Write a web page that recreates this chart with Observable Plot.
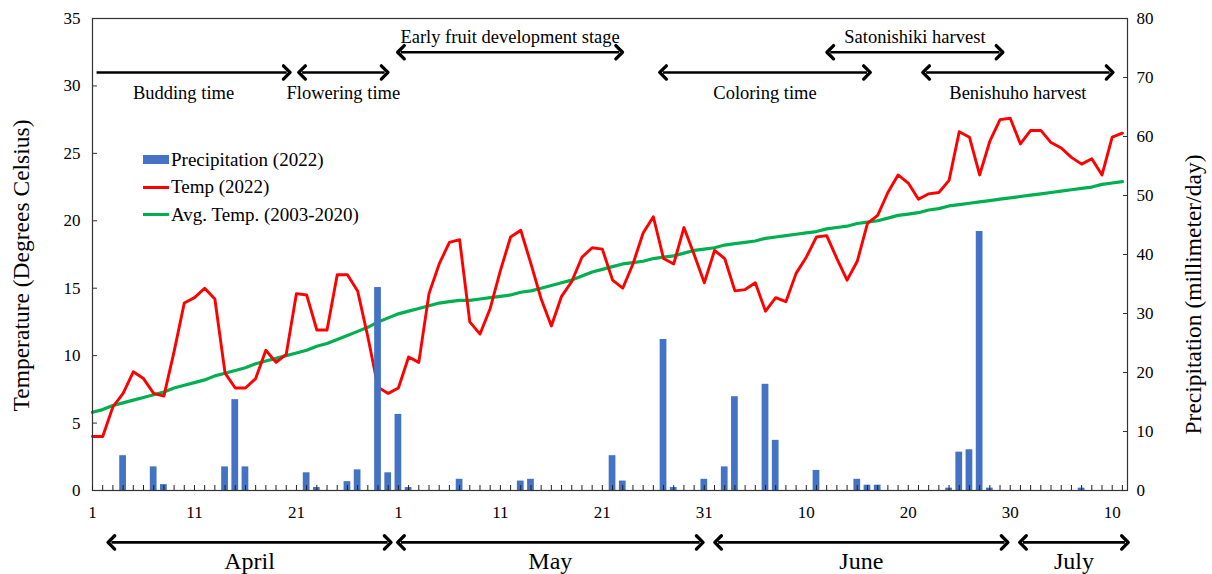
<!DOCTYPE html>
<html>
<head>
<meta charset="utf-8">
<script src="https://cdn.jsdelivr.net/npm/d3@7"></script>
<script src="https://cdn.jsdelivr.net/npm/@observablehq/plot@0.6"></script>
<style>
  body { margin: 0; background: #fff; }
  #wrap { position: relative; width: 1212px; height: 574px; font-family: "Liberation Serif", "Times New Roman", serif; }
  .legend { position: absolute; left: 143px; top: 146px; font-size: 19px; color: #000; }
  .row { display: flex; align-items: center; height: 27.5px; white-space: nowrap; }
  .sw { display: inline-block; width: 26px; margin-right: 2px; }
  .sw.bar { height: 9px; background: #4472C4; }
  .sw.red { height: 3px; background: #FF0000; }
  .sw.green { height: 3px; background: #00B050; }
</style>
</head>
<body>
<div id="wrap"></div>
<script>
// Day index: 1 = April 1 ... 102 = July 11
const days = d3.range(1, 103);

const temp2022 = [
  4.0, 4.0, 6.2, 7.2, 8.8, 8.3, 7.2, 7.0, 10.3, 13.9,
  14.3, 15.0, 14.2, 8.7, 7.6, 7.6, 8.3, 10.4, 9.5, 10.1,
  14.6, 14.5, 11.9, 11.9, 16.0, 16.0, 14.8, 11.4, 7.65, 7.2,
  7.6, 9.9, 9.5, 14.6, 16.8, 18.4, 18.6, 12.5, 11.6, 13.5,
  16.3, 18.8, 19.3, 16.8, 14.2, 12.2, 14.4, 15.5, 17.3, 18.0,
  17.9, 15.6, 15.0, 16.8, 19.1, 20.3, 17.2, 16.8, 19.5, 17.5,
  15.4, 17.8, 17.2, 14.8, 14.9, 15.4, 13.3, 14.3, 14.0, 16.1,
  17.3, 18.8, 18.9, 17.2, 15.6, 17.0, 19.8, 20.4, 22.1, 23.4,
  22.8, 21.6, 22.0, 22.1, 23.0, 26.6, 26.2, 23.4, 25.9, 27.5,
  27.6, 25.7, 26.7, 26.7, 25.8, 25.4, 24.7, 24.2, 24.6, 23.4,
  26.2, 26.5
];

const avgTemp = [
  5.8, 6.0, 6.3, 6.5, 6.7, 6.9, 7.1, 7.3, 7.6, 7.8,
  8.0, 8.2, 8.5, 8.7, 8.9, 9.1, 9.4, 9.6, 9.8, 10.0,
  10.2, 10.4, 10.7, 10.9, 11.2, 11.5, 11.8, 12.1, 12.5, 12.8,
  13.1, 13.3, 13.5, 13.7, 13.9, 14.0, 14.1, 14.1, 14.2, 14.3,
  14.4, 14.5, 14.7, 14.8, 15.0, 15.2, 15.4, 15.6, 15.9, 16.2,
  16.4, 16.6, 16.8, 16.9, 17.0, 17.2, 17.3, 17.4, 17.6, 17.8,
  17.9, 18.0, 18.2, 18.3, 18.4, 18.5, 18.7, 18.8, 18.9, 19.0,
  19.1, 19.2, 19.4, 19.5, 19.6, 19.8, 19.9, 20.0, 20.2, 20.4,
  20.5, 20.6, 20.8, 20.9, 21.1, 21.2, 21.3, 21.4, 21.5, 21.6,
  21.7, 21.8, 21.9, 22.0, 22.1, 22.2, 22.3, 22.4, 22.5, 22.7,
  22.8, 22.9
];

const precip2022 = [
  0, 0, 0, 5.9, 0, 0, 4.0, 1.0, 0, 0,
  0, 0, 0, 4.0, 15.4, 4.0, 0, 0, 0, 0,
  0, 3.0, 0.5, 0, 0, 1.5, 3.5, 0, 34.4, 3.0,
  12.9, 0.5, 0, 0, 0, 0, 1.9, 0, 0, 0,
  0, 0, 1.6, 1.9, 0, 0, 0, 0, 0, 0,
  0, 5.9, 1.6, 0, 0, 0, 25.6, 0.5, 0, 0,
  1.9, 0, 4.0, 15.9, 0, 0, 18.0, 8.5, 0, 0,
  0, 3.4, 0, 0, 0, 1.9, 0.9, 0.9, 0, 0,
  0, 0, 0, 0, 0.4, 6.5, 6.9, 43.9, 0.4, 0,
  0, 0, 0, 0, 0, 0, 0, 0.4, 0, 0,
  0, 0
];

const xTickDays = [1, 11, 21, 31, 41, 51, 61, 71, 81, 91, 101];
const xTickLabels = ["1", "11", "21", "1", "11", "21", "31", "10", "20", "30", "10"];
const tempTicks = [0, 5, 10, 15, 20, 25, 30, 35];
const precipTicks = [0, 10, 20, 30, 40, 50, 60, 70, 80];

const phases = [
  { label: "Budding time", start: 1.4, end: 20.05, row: "low", single: true },
  { label: "Flowering time", start: 21.55, end: 29.65, row: "low" },
  { label: "Early fruit development stage", start: 31.25, end: 52.65, row: "high" },
  { label: "Coloring time", start: 56.95, end: 76.95, row: "low" },
  { label: "Satonishiki harvest", start: 73.35, end: 89.95, row: "high" },
  { label: "Benishuho harvest", start: 82.75, end: 100.75, row: "low" }
];

const months = [
  { name: "April", start: 2.85, end: 29.95 },
  { name: "May", start: 31.25, end: 60.55 },
  { name: "June", start: 62.35, end: 90.45 },
  { name: "July", start: 92.25, end: 102.25 }
];

// ---- build tables ----
const table = days.map((d, i) => ({ day: d, temp: temp2022[i], avg: avgTemp[i], p: precip2022[i] }));
const k = 35 / 80; // secondary axis (mm/day) mapped onto primary (°C)
const rowY = { low: 31.0, high: 32.5 };
const rowLabelY = { low: 29.5, high: 33.65 };
const monthArrowY = -3.85, monthLabelY = -5.25;
const noLabel = () => "";
const labelX = d => (d.start + d.end) / 2 - (d.single ? 0.8 : 0);

const plot = Plot.plot({
  width: 1212,
  height: 574,
  marginLeft: 92,
  marginRight: 85,
  marginTop: 18,
  marginBottom: 84,
  style: { fontFamily: "Liberation Serif, Times New Roman, serif", fontSize: "16px", color: "#000", background: "#fff" },
  x: { domain: [1, 102.5] },
  y: { domain: [0, 35] },
  marks: [
    // lines
    Plot.line(table, { x: "day", y: "avg", stroke: "#00B050", strokeWidth: 3.2 }),
    Plot.line(table, { x: "day", y: "temp", stroke: "#FF0000", strokeWidth: 2.9 }),
    // precipitation bars (secondary axis)
    Plot.rectY(table.filter(d => d.p > 0), {
      x1: d => d.day - 0.33, x2: d => d.day + 0.33,
      y1: 0, y2: d => d.p * k, fill: "#4472C4"
    }),
    // frame
    Plot.frame({ stroke: "#333", strokeWidth: 1.2 }),
    // x axis ticks (every day, inward) and labels
    Plot.axisX(days, { tickSize: -5, tickFormat: noLabel, stroke: "#222", label: null }),
    Plot.axisX(xTickDays, { tickSize: 0, tickPadding: 15, tickFormat: (d, i) => xTickLabels[i], fontSize: 17, label: null }),
    // left axis
    Plot.axisY(tempTicks, { anchor: "left", tickSize: -5, tickFormat: noLabel, stroke: "#333", label: null }),
    Plot.axisY(tempTicks, { anchor: "left", tickSize: 0, tickPadding: 12, fontSize: 17, label: null }),
    // right axis (precipitation)
    Plot.axisY(precipTicks.map(v => v * k), { anchor: "right", tickSize: -5, tickFormat: noLabel, stroke: "#333", label: null }),
    Plot.axisY(precipTicks.map(v => v * k), { anchor: "right", tickSize: 0, tickPadding: 9, fontSize: 17, tickFormat: v => String(Math.round(v / k)), label: null }),
    // axis titles
    Plot.text(["Temperature (Degrees Celsius)"], { frameAnchor: "left", dx: -71, dy: 11, rotate: -90, fontSize: 23.5, textAnchor: "middle" }),
    Plot.text(["Precipitation (millimeter/day)"], { frameAnchor: "right", dx: 66, dy: 40, rotate: -90, fontSize: 23.5, textAnchor: "middle" }),
    // phase arrows
    Plot.link(phases.filter(d => d.single), {
      x1: "start", x2: "end", y1: d => rowY[d.row], y2: d => rowY[d.row],
      stroke: "#000", strokeWidth: 2.6, markerEnd: "arrow"
    }),
    Plot.link(phases.filter(d => !d.single), {
      x1: "start", x2: "end", y1: d => rowY[d.row], y2: d => rowY[d.row],
      stroke: "#000", strokeWidth: 2.6, markerStart: "arrow-reverse", markerEnd: "arrow"
    }),
    Plot.text(phases, {
      x: labelX, y: d => rowLabelY[d.row], text: "label",
      fontSize: 18.5, fill: "#000"
    }),
    // month arrows below axis
    Plot.link(months, {
      x1: "start", x2: "end", y1: monthArrowY, y2: monthArrowY,
      stroke: "#000", strokeWidth: 2.6, markerStart: "arrow-reverse", markerEnd: "arrow"
    }),
    Plot.text(months, {
      x: d => (d.start + d.end) / 2, y: monthLabelY, text: "name",
      fontSize: 24, fill: "#000"
    })
  ]
});

// enlarge arrowheads to match the reference chevrons
plot.querySelectorAll("marker").forEach(m => {
  m.setAttribute("markerWidth", "8.5");
  m.setAttribute("markerHeight", "8.5");
});

const wrap = document.getElementById("wrap");
wrap.appendChild(plot);

const legend = document.createElement("div");
legend.className = "legend";
legend.innerHTML = `
  <div class="row"><span class="sw bar"></span>Precipitation (2022)</div>
  <div class="row"><span class="sw red"></span>Temp (2022)</div>
  <div class="row"><span class="sw green"></span>Avg. Temp. (2003-2020)</div>`;
wrap.appendChild(legend);
</script>
</body>
</html>
